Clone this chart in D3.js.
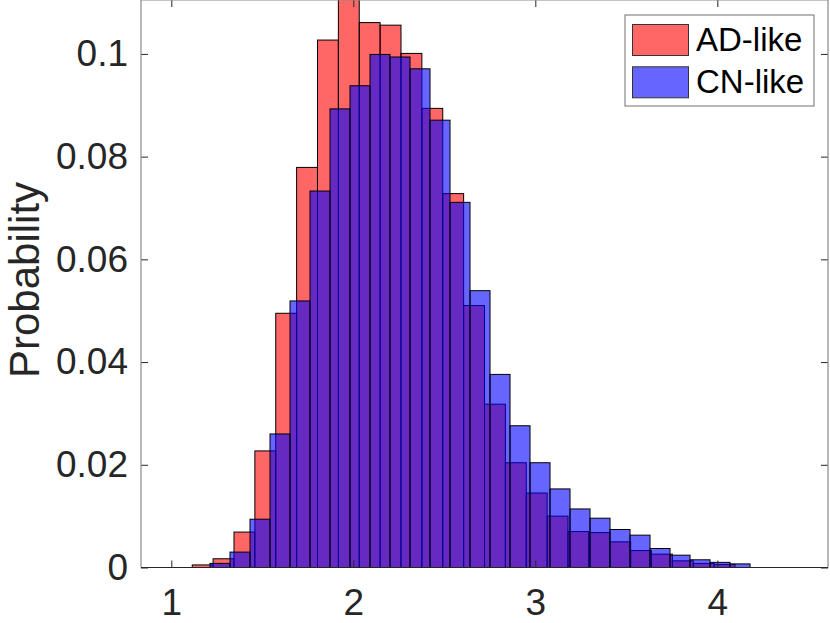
<!DOCTYPE html>
<html>
<head>
<meta charset="utf-8">
<script src="https://cdn.jsdelivr.net/npm/d3@7"></script>
<style>
  body { margin: 0; background: #fff; }
  text { font-family: "Liberation Sans", Arial, Helvetica, sans-serif; fill: #262626; }
</style>
</head>
<body>
<script>
// histogram data (probability per bin)
var adStart = 1.115, adWidth = 0.1147;
var adValues = [0.0005, 0.0017, 0.0069, 0.0227, 0.0495, 0.0779, 0.1027, 0.1130, 0.1061,
  0.1056, 0.1001, 0.0894, 0.0728, 0.0510, 0.0318, 0.0204, 0.0145, 0.0100, 0.0070,
  0.0068, 0.0050, 0.0033, 0.0026, 0.0013, 0.0008, 0.0006];

var cnStart = 1.2126, cnWidth = 0.10989;
var cnValues = [0.0008, 0.0030, 0.0094, 0.0260, 0.0519, 0.0733, 0.0893, 0.0938, 0.0999,
  0.0994, 0.0971, 0.0871, 0.0711, 0.0539, 0.0376, 0.0276, 0.0204, 0.0153, 0.0114,
  0.0096, 0.0074, 0.0063, 0.0037, 0.0024, 0.0015, 0.0010, 0.0007];

var xTicks = [1, 2, 3, 4];
var yTicks = [0, 0.02, 0.04, 0.06, 0.08, 0.1];
var yTickLabels = ["0", "0.02", "0.04", "0.06", "0.08", "0.1"];
var seriesNames = ["AD-like", "CN-like"];

// plot box (window.top is reserved, so prefixed names)
var boxLeft = 141, boxRight = 828, boxTop = 0, boxBottom = 567.5;

var svg = d3.select("body").append("svg")
  .attr("width", 830)
  .attr("height", 623);

var x = d3.scaleLinear().domain([0.8335, 4.608]).range([boxLeft, boxRight]);
var y = d3.scaleLinear().domain([0, 0.1105]).range([boxBottom, boxTop]);

// clip bars to the axes box
svg.append("clipPath").attr("id", "box")
  .append("rect")
  .attr("x", boxLeft).attr("y", boxTop)
  .attr("width", boxRight - boxLeft).attr("height", boxBottom - boxTop);

function drawHist(values, start, width, color) {
  svg.append("g")
    .attr("clip-path", "url(#box)")
    .selectAll("rect")
    .data(values)
    .enter().append("rect")
    .attr("x", function(d, i) { return x(start + i * width); })
    .attr("y", function(d) { return y(d); })
    .attr("width", function(d, i) { return x(start + (i + 1) * width) - x(start + i * width); })
    .attr("height", function(d) { return y(0) - y(d); })
    .attr("fill", color)
    .attr("fill-opacity", 0.6)
    .attr("stroke", "#000")
    .attr("stroke-width", 1);
}

drawHist(adValues, adStart, adWidth, "#ff0000");
drawHist(cnValues, cnStart, cnWidth, "#0000ff");

// axes with inward ticks
var fmt = function(d) { return yTickLabels[yTicks.indexOf(d)]; };

var gx = svg.append("g")
  .attr("transform", "translate(0," + boxBottom + ")")
  .call(d3.axisBottom(x).tickValues(xTicks).tickFormat(d3.format("d"))
    .tickSizeInner(-7).tickSizeOuter(0).tickPadding(21));
var gy = svg.append("g")
  .attr("transform", "translate(" + boxLeft + ",0)")
  .call(d3.axisLeft(y).tickValues(yTicks).tickFormat(fmt)
    .tickSizeInner(-7).tickSizeOuter(0).tickPadding(13));
var gt = svg.append("g")
  .attr("transform", "translate(0," + boxTop + ")")
  .call(d3.axisTop(x).tickValues(xTicks).tickSizeInner(-7).tickSizeOuter(0).tickFormat(""));
var gr = svg.append("g")
  .attr("transform", "translate(" + boxRight + ",0)")
  .call(d3.axisRight(y).tickValues(yTicks).tickSizeInner(-7).tickSizeOuter(0).tickFormat(""));

[gx, gy, gt, gr].forEach(function(g) {
  g.select(".domain").remove();
  g.selectAll(".tick line").attr("stroke", "#262626");
  g.selectAll(".tick text").style("font-size", "37px").attr("fill", "#262626");
});

// box
svg.append("path")
  .attr("d", "M" + boxLeft + "," + boxBottom + "V" + boxTop + "H" + boxRight + "V" + boxBottom)
  .attr("fill", "none")
  .attr("stroke", "#8a8a8a")
  .attr("stroke-width", 1.2);
svg.append("line")
  .attr("x1", boxLeft).attr("x2", boxRight)
  .attr("y1", boxBottom).attr("y2", boxBottom)
  .attr("stroke", "#262626")
  .attr("stroke-width", 1.2);

// y label
svg.append("text")
  .attr("transform", "translate(39,280) rotate(-90)")
  .attr("text-anchor", "middle")
  .style("font-size", "42px")
  .text("Probability");

// legend
var legend = svg.append("g");
legend.append("rect")
  .attr("x", 625).attr("y", 15)
  .attr("width", 189).attr("height", 91)
  .attr("fill", "#fff")
  .attr("stroke", "#707070")
  .attr("stroke-width", 1);

var legendColors = ["#ff0000", "#0000ff"];
seriesNames.forEach(function(name, i) {
  legend.append("rect")
    .attr("x", 632.5).attr("y", 24.5 + i * 42.3)
    .attr("width", 56).attr("height", 31)
    .attr("fill", legendColors[i])
    .attr("fill-opacity", 0.6)
    .attr("stroke", "#333")
    .attr("stroke-width", 1);
  legend.append("text")
    .attr("x", 696).attr("y", 50.5 + i * 42.5)
    .style("font-size", "33px")
    .style("fill", "#000")
    .text(name);
});
</script>
</body>
</html>
